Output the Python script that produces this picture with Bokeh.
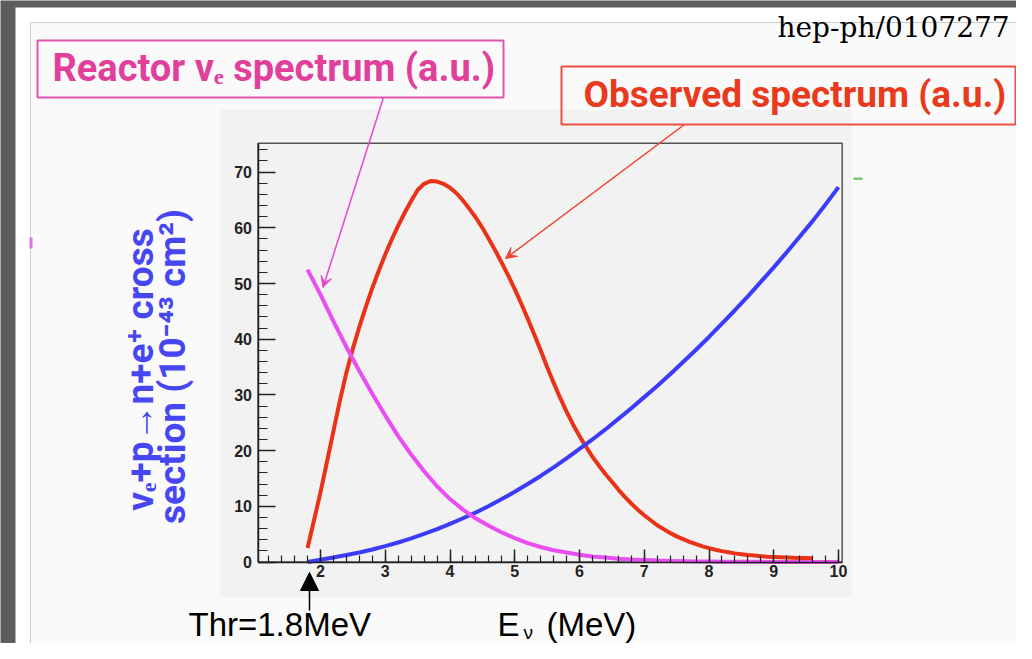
import math
from bokeh.plotting import figure
from bokeh.models import Range1d, LinearAxis, FixedTicker, Label, Arrow, VeeHead, NormalHead
from bokeh.embed import file_html
from bokeh.resources import INLINE

# ---------------- data ----------------
energy_mev = [1.8, 2.0, 2.2, 2.4, 2.6, 2.8, 3.0, 3.2, 3.4, 3.6, 3.8, 4.0, 4.2, 4.4,
              4.6, 4.8, 5.0, 5.2, 5.4, 5.6, 5.8, 6.0, 6.2, 6.4, 6.6, 6.8, 7.0, 7.2,
              7.4, 7.6, 7.8, 8.0, 8.2, 8.4, 8.6, 8.8, 9.0, 9.2, 9.4, 9.6, 9.8, 10.0]
cross_section = [0.0, 0.4, 0.8, 1.25, 1.7, 2.25, 2.85, 3.5, 4.25, 5.05, 5.9, 6.85, 7.85,
                 8.9, 10.05, 11.3, 12.6, 14.0, 15.45, 17.0, 18.6, 20.3, 22.0, 23.8, 25.7,
                 27.6, 29.6, 31.6, 33.7, 35.9, 38.1, 40.4, 42.8, 45.2, 47.7, 50.3, 52.9,
                 55.6, 58.4, 61.2, 64.2, 67.3]
reactor_spectrum = [52.5, 48.0, 43.2, 38.6, 34.3, 30.2, 26.3, 22.6, 19.3, 16.3, 13.6,
                    11.3, 9.4, 7.8, 6.5, 5.3, 4.3, 3.4, 2.7, 2.1, 1.7, 1.3, 1.0, 0.8,
                    0.6, 0.45, 0.35, 0.25, 0.2, 0.15, 0.1, 0.08, 0.06, 0.05, 0.04, 0.03,
                    0.02, 0.02, 0.01, 0.01, 0.01, 0.0]
observed_energy = [1.8, 1.9, 2.0, 2.1, 2.2, 2.3, 2.4, 2.5, 2.6, 2.7, 2.8, 2.9, 3.0,
                   3.1, 3.2, 3.3, 3.4, 3.5, 3.6, 3.7, 3.8, 3.9, 4.0, 4.1, 4.2, 4.3,
                   4.4, 4.5, 4.6, 4.7, 4.8, 4.9, 5.0, 5.1, 5.2, 5.3, 5.4, 5.5, 5.6,
                   5.7, 5.8, 5.9, 6.0, 6.1, 6.2, 6.3, 6.4, 6.5, 6.6, 6.7, 6.8, 6.9,
                   7.0, 7.1, 7.2, 7.3, 7.4, 7.5, 7.6, 7.7, 7.8, 7.9, 8.0, 8.1, 8.2,
                   8.3, 8.4, 8.5, 8.6, 8.7, 8.8, 8.9, 9.0, 9.1, 9.2, 9.3, 9.4, 9.5, 9.6]
observed_spectrum = [2.5, 7.5, 12.5, 18.0, 23.5, 29.0, 34.0, 38.3, 42.2, 45.8, 49.2,
                     52.3, 55.2, 57.9, 60.4, 62.7, 64.8, 66.8, 67.9, 68.4, 68.3, 67.9,
                     67.2, 66.2, 64.9, 63.4, 61.8, 60.0, 58.0, 55.9, 53.7, 51.4, 49.0,
                     46.4, 43.7, 40.9, 38.0, 35.0, 32.2, 29.5, 27.0, 24.7, 22.6, 20.7,
                     18.9, 17.3, 15.8, 14.4, 13.0, 11.7, 10.5, 9.4, 8.4, 7.5, 6.6, 5.9,
                     5.2, 4.6, 4.1, 3.6, 3.2, 2.8, 2.5, 2.2, 1.95, 1.75, 1.55, 1.4,
                     1.25, 1.15, 1.05, 0.95, 0.9, 0.85, 0.8, 0.75, 0.72, 0.7, 0.68]

x_major_ticks = [2, 3, 4, 5, 6, 7, 8, 9, 10]
y_major_ticks = [0, 10, 20, 30, 40, 50, 60, 70]
x_minor_ticks = [round(1.2 + 0.2 * i, 1) for i in range(45)]
y_minor_ticks = [2 * i for i in range(38)]

# ---------------- layout helpers (picture pixel -> data) ----------------
W, H = 1016, 643


def px2x(X):
    return 2.0 + (X - 320.0) / 64.75


def py2y(Y):
    return (561.5 - Y) / 5.57


x_lo, x_hi = px2x(257.5), px2x(841.7)
y_hi = py2y(142.7)

p = figure(width=W, height=H,
           x_range=Range1d(px2x(0), px2x(W)),
           y_range=Range1d(py2y(H), py2y(0)),
           output_backend="svg", toolbar_location=None,
           x_axis_type=None, y_axis_type=None, min_border=0)
p.outline_line_color = None
p.background_fill_color = "#5d5d5d"
p.border_fill_color = "#5d5d5d"

# slide background
p.quad(left=px2x(15), right=px2x(1040), top=py2y(7), bottom=py2y(670),
       fill_color="#ffffff", line_color=None)
p.quad(left=px2x(30), right=px2x(1027), top=py2y(22), bottom=py2y(647),
       fill_color="#fafafa", line_color="#cccccc", line_width=1)
# ROOT canvas
p.quad(left=px2x(220), right=px2x(851), top=py2y(109), bottom=py2y(597),
       fill_color="#f2f2f2", line_color=None)
# frame border
p.quad(left=x_lo, right=x_hi, bottom=0, top=y_hi, fill_color=None,
       line_color="#555555", line_width=1.5)

# small stray marks
p.quad(left=px2x(853), right=px2x(862), top=py2y(177), bottom=py2y(179.5),
       fill_color="#7cc47c", line_color=None)
p.quad(left=px2x(29), right=px2x(32), top=py2y(237), bottom=py2y(248),
       fill_color="#e070e8", line_color=None)

# ---------------- curves ----------------
p.line(observed_energy, observed_spectrum, line_color="#ea3218", line_width=4)
p.line(energy_mev, cross_section, line_color="#3c3cf8", line_width=4)
p.line(energy_mev, reactor_spectrum, line_color="#ea4ef2", line_width=4)

# ---------------- axes ----------------
tick_font = "Liberation Sans"
xaxis = LinearAxis(fixed_location=0, bounds=(x_lo, x_hi),
                   ticker=FixedTicker(ticks=x_major_ticks, minor_ticks=x_minor_ticks))
yaxis = LinearAxis(fixed_location=x_lo, bounds=(0, y_hi),
                   ticker=FixedTicker(ticks=y_major_ticks, minor_ticks=y_minor_ticks))
for ax, maj, mnr, so in ((xaxis, 13, 7, 3), (yaxis, 17, 9, 6)):
    ax.major_tick_in = maj
    ax.major_tick_out = 0
    ax.minor_tick_in = mnr
    ax.minor_tick_out = 0
    ax.axis_line_color = "#222222"
    ax.axis_line_width = 1.5
    ax.major_tick_line_color = "#222222"
    ax.major_tick_line_width = 1.5
    ax.minor_tick_line_color = "#222222"
    ax.minor_tick_line_width = 1.2
    ax.major_label_text_font = tick_font
    ax.major_label_text_font_style = "bold"
    ax.major_label_text_font_size = "16px"
    ax.major_label_text_color = "#222222"
    ax.major_label_standoff = so
p.add_layout(xaxis, "below")
p.add_layout(yaxis, "left")

# ---------------- texts ----------------
def lab(X, base_Y, text, size, color="black", font="Liberation Sans", style="normal",
        align="left", angle=0.0):
    # base_Y: wanted baseline (picture px); text is anchored at its middle
    p.add_layout(Label(x=px2x(X), y=py2y(base_Y - 0.35 * size), text=text, text_font=font,
                       text_font_size=f"{size}px", text_color=color,
                       text_font_style=style, text_align=align,
                       text_baseline="middle", angle=angle))

lab(777, 37, "hep-ph/0107277", 28, font="DejaVu Serif")

pink = "#e0409c"
red = "#ea3a1e"
blue = "#4646f2"
p.quad(left=px2x(37), right=px2x(503), top=py2y(40), bottom=py2y(97),
       fill_color=None, line_color="#e254ae", line_width=2)
lab(52, 81, "Reactor \u03bd\u2091 spectrum (a.u.)", 38, color=pink, font="Roboto", style="bold")
p.quad(left=px2x(561), right=px2x(1015), top=py2y(66), bottom=py2y(124),
       fill_color=None, line_color="#ec5040", line_width=2)
lab(583, 107, "Observed spectrum (a.u.)", 37, color=red, font="Roboto", style="bold")

# rotated y-axis title: anchored at its centre
for Xc, Yc, txt in ((140, 369, "\u03bd\u2091+p\u2192n+e\u207a cross"),
                    (172, 366, "section (10\u207b\u2074\u00b3 cm\u00b2)")):
    p.add_layout(Label(x=px2x(Xc), y=py2y(Yc), text=txt, text_font="Roboto",
                       text_font_size="37px", text_color=blue, text_font_style="bold",
                       text_align="center", text_baseline="middle", angle=math.pi / 2))

lab(188, 636, "Thr=1.8MeV", 33)
lab(497, 636, "E", 33)
lab(523, 639, "\u03bd", 19)
lab(546, 636, "(MeV)", 33)

# ---------------- arrows ----------------
p.add_layout(Arrow(x_start=px2x(383), y_start=py2y(97), x_end=px2x(322.5), y_end=py2y(287),
                   line_color="#e448cf", line_width=1.5,
                   end=VeeHead(size=11, fill_color="#e448cf", line_color="#e448cf", line_width=1)))
p.add_layout(Arrow(x_start=px2x(684), y_start=py2y(124), x_end=px2x(505), y_end=py2y(258),
                   line_color="#ee4433", line_width=1.5,
                   end=VeeHead(size=11, fill_color="#ee4433", line_color="#ee4433", line_width=1)))
p.add_layout(Arrow(x_start=px2x(309), y_start=py2y(610), x_end=px2x(309), y_end=py2y(572),
                   line_color="black", line_width=1.5,
                   end=NormalHead(size=18, fill_color="black", line_color="black", line_width=1)))

open("out.html", "w").write(file_html(p, INLINE))
